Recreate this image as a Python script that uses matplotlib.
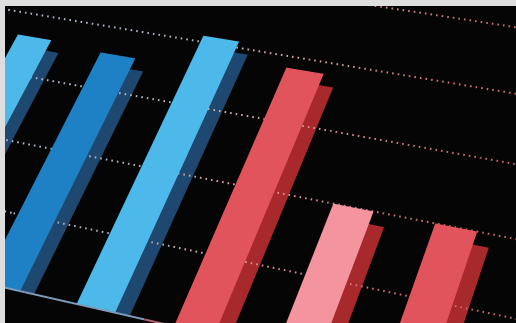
import numpy as np
import matplotlib
matplotlib.use("Agg")
import matplotlib.pyplot as plt
from matplotlib.collections import LineCollection
from matplotlib.colors import LinearSegmentedColormap
from matplotlib.transforms import Transform

# bar values, in grid steps (one dotted gridline = 1)
positions = [0, 1, 2, 3, 4, 5]
values = [3.63, 3.57, 4.1, 3.82, 2.0, 2.0]
face_colors = ['#4db9ea', '#1f81c5', '#4db9ea', '#e2545b', '#f4949e', '#e2545b']
side_colors = ['#1e4870', '#1e4870', '#1e4870', '#a8292c', '#a8292c', '#a8292c']
grid_levels = [1, 2, 3, 4, 5, 6]

W, H = 516, 323


class Perspective(Transform):
    """Projective warp applied in display space."""
    input_dims = 2
    output_dims = 2
    is_separable = False
    has_inverse = False

    def __init__(self, mat):
        super().__init__()
        self.mat = mat

    def transform_non_affine(self, values):
        values = np.asarray(values, dtype=float)
        pts = np.column_stack([values, np.ones(len(values))]) @ self.mat.T
        return pts[:, :2] / pts[:, 2:3]


def homography(src, dst):
    # least squares fit, h33 = 1
    rows, rhs = [], []
    for (x, y), (X, Y) in zip(src, dst):
        rows.append([x, y, 1, 0, 0, 0, -X * x, -X * y])
        rhs.append(X)
        rows.append([0, 0, 0, x, y, 1, -Y * x, -Y * y])
        rhs.append(Y)
    h = np.linalg.lstsq(np.array(rows), np.array(rhs), rcond=None)[0]
    return np.append(h, 1).reshape(3, 3)


fig = plt.figure(figsize=(W / 100, H / 100), dpi=100, facecolor='#dedede')
ax = fig.add_axes([5 / W, 0, (W - 5) / W, (H - 6) / H])
ax.set_facecolor('#050505')
ax.set_xlim(-0.6, 5.6)
ax.set_ylim(0, 5)
ax.set_xticks([])
ax.set_yticks([])
for s in ax.spines.values():
    s.set_visible(False)

# where some (category, value) points land in the picture (pixels, y down)
anchor_data = np.array([
    [-0.2, 3.63], [0.2, 3.63], [0.8, 3.57], [1.2, 3.57], [0.8, 3], [0.8, 1],
    [1.8, 4.1], [2.2, 4.1], [1.8, 4], [1.8, 2], [1.8, 0], [2.2, 0],
    [2.8, 3.82], [3.2, 3.82], [2.8, 3], [3.8, 2], [4.2, 2], [3.8, 1],
    [4.8, 2], [5.2, 2], [4.8, 3], [4.8, 4], [4.8, 5]])
anchor_img = np.array([
    [17, 35], [50, 42], [101, 52], [136, 56], [84, 87], [23, 215],
    [203, 34], [240, 39], [199, 42], [140, 167], [77, 305], [110, 312],
    [288, 68], [323, 75], [264, 118], [335, 205], [372, 210], [306, 274],
    [437, 225], [475, 230], [463, 153], [483, 89], [504, 28]])
src = ax.transData.transform(anchor_data)
dst = np.column_stack([anchor_img[:, 0], H - anchor_img[:, 1]])
trans = ax.transData + Perspective(homography(src, dst))

x = np.array(positions, dtype=float)
h = np.array(values)

# side faces, then fronts
ax.bar(x + 0.15, h - 0.18, width=0.4, color=side_colors, linewidth=0,
       transform=trans, zorder=1)
ax.bar(x, h, width=0.4, color=face_colors, linewidth=0,
       transform=trans, zorder=3)

# dotted gridlines, grey on the left turning pink on the right
u = np.linspace(-1.5, 7, 35)
grid_cmap = LinearSegmentedColormap.from_list(
    'grid', ['#b0b9c9', '#aab4c5', '#d8a4a6', '#cc7478', '#c46468'])
t = np.clip((u[:-1] + 0.5) / 6.2, 0, 1)
grid_lw = 1.45
dot_on, dot_off = 0.8, 2.0
unit_px = grid_lw * fig.dpi / 72
for lv in grid_levels:
    # carry the dot phase over from one coloured piece to the next
    pts = trans.transform(np.column_stack([u, np.full_like(u, lv)]))
    seg_len = np.hypot(*np.diff(pts, axis=0).T) / unit_px
    phase = np.concatenate([[0], np.cumsum(seg_len)[:-1]]) % (dot_on + dot_off)
    segs = [[(u[i], lv), (u[i + 1], lv)] for i in range(len(u) - 1)]
    ax.add_collection(LineCollection(
        segs, colors=grid_cmap(t), linewidths=grid_lw,
        linestyles=[(p, (dot_on, dot_off)) for p in phase],
        transform=trans, zorder=2))

# baseline
base_cmap = LinearSegmentedColormap.from_list(
    'base', [(0, '#7d9cbc'), (0.45, '#7d9cbc'), (0.5, '#d9404a'), (1, '#d9404a')])
segs = [[(u[i], 0), (u[i + 1], 0)] for i in range(len(u) - 1)]
ax.add_collection(LineCollection(
    segs, colors=base_cmap(t), linewidths=1.4, transform=trans, zorder=4))

fig.savefig('out.png', dpi=100, facecolor=fig.get_facecolor())
